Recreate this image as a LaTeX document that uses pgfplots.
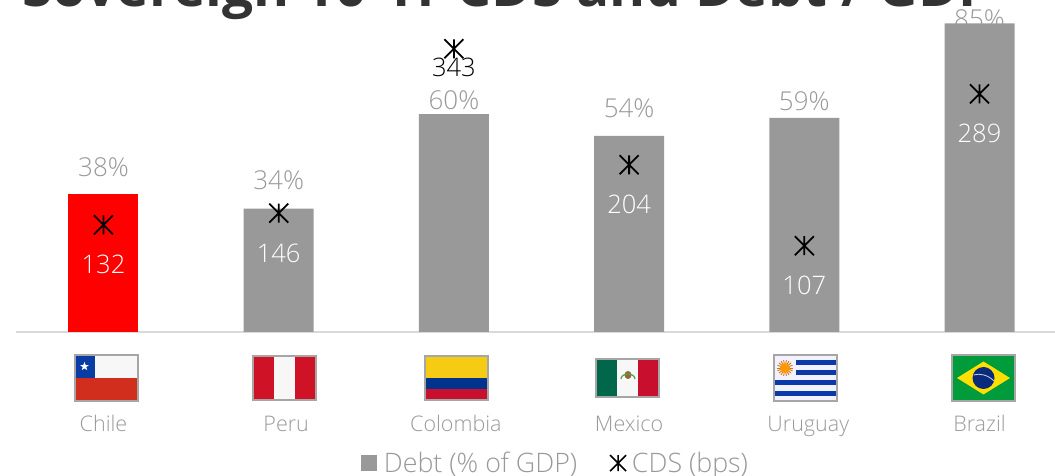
\documentclass[border=0pt]{standalone}
\usepackage{pgfplots}
\pgfplotsset{compat=1.18}
\usepackage{fontspec}
\setmainfont{Open Sans}[UprightFont=* Light,BoldFont=* Bold]
\usetikzlibrary{shapes.geometric}

\definecolor{barGray}{HTML}{999999}
\definecolor{textGray}{HTML}{999999}
\definecolor{frameGray}{HTML}{A6A6A6}
\definecolor{baseGray}{HTML}{D9D9D9}
\definecolor{titleInk}{HTML}{333333}

% star with a vertical arm and two diagonals
\pgfdeclareplotmark{crossbar}{%
  \pgfpathmoveto{\pgfqpoint{-\pgfplotmarksize}{-\pgfplotmarksize}}%
  \pgfpathlineto{\pgfqpoint{\pgfplotmarksize}{\pgfplotmarksize}}%
  \pgfpathmoveto{\pgfqpoint{-\pgfplotmarksize}{\pgfplotmarksize}}%
  \pgfpathlineto{\pgfqpoint{\pgfplotmarksize}{-\pgfplotmarksize}}%
  \pgfpathmoveto{\pgfqpoint{0pt}{-\pgfplotmarksize}}%
  \pgfpathlineto{\pgfqpoint{0pt}{\pgfplotmarksize}}%
  \pgfusepathqstroke}

% debt: position, value, label lift above the bar
\pgfplotstableread{
x debt lift
0 38 27
1 34 28
2 60 14
3 54 28
4 59 17
5 85 4
}\debttable
\pgfplotstableread{
x debt
0 38
}\chiletable
\pgfplotstableread{
x debt
1 34
2 60
3 54
4 59
5 85
}\peertable
\pgfplotstableread{
x cds
0 132
1 146
3 204
4 107
5 289
}\cdstable
\pgfplotstableread{
x cds
2 343
}\cdshigh

\begin{document}
\begin{tikzpicture}
\clip[use as bounding box] (0,0) rectangle (1055pt,476pt);

\begin{axis}[
  name=main, at={(16pt,144pt)}, anchor=south west,
  scale only axis, width=1039pt, height=332pt,
  xmin=-0.4994, xmax=5.431, ymin=0, ymax=91.46,
  axis x line=bottom, axis y line=none,
  axis line style={baseGray, line width=1.5pt, -},
  /pgf/number format/assume math mode=true,
  xtick=data, major tick length=0pt, clip=false,
  xticklabels={Chile,\hspace{15pt}Peru,\hspace{4pt}Colombia,Mexico,\hspace{8pt}Uruguay,Brazil},
  xticklabel style={anchor=base, yshift=-100pt, text=textGray, font=\fontsize{21.5}{25}\selectfont},
  legend style={at={(0.3325,-0.395)}, anchor=west, draw=none, fill=none, inner sep=0pt, outer sep=0pt,
    font=\fontsize{26.8}{32}\selectfont, text=textGray, legend columns=2,
    /tikz/every even column/.append style={column sep=30pt}},
]
\addlegendimage{legend image code/.code={\fill[barGray] (0pt,-7.5pt) rectangle (15pt,7.5pt);}}
\addlegendentry{\hspace{5pt}Debt (\% of GDP)}
\addlegendimage{legend image code/.code={\draw[black,line width=1.7pt] (0pt,-8pt)--(16pt,8pt) (0pt,8pt)--(16pt,-8pt) (8pt,-8pt)--(8pt,8pt);}}
\addlegendentry{\hspace{3pt}CDS (bps)}

% debt labels go first so that the bars sit over them
\addplot[draw=none, forget plot,
  visualization depends on={\thisrow{lift} \as \lift},
  nodes near coords={\pgfmathprintnumber{\pgfplotspointmeta}\%},
  point meta=y,
  every node near coord/.style={anchor=center, yshift=\lift pt, text=textGray, inner sep=0pt,
    font=\fontsize{26}{30}\selectfont}]
  table[x=x,y=debt]{\debttable};

\addplot[ybar, forget plot, bar width=70pt, bar shift=0pt, fill=barGray, draw=none]
  table[x=x,y=debt]{\peertable};
\addplot[ybar, forget plot, bar width=70pt, bar shift=0pt, fill=red, draw=none]
  table[x=x,y=debt]{\chiletable};
\end{axis}

% CDS on its own hidden scale
\begin{axis}[
  at={(16pt,144pt)}, anchor=south west,
  scale only axis, width=1039pt, height=332pt,
  xmin=-0.4994, xmax=5.431, ymin=3.6, ymax=401.5,
  axis lines=none, clip=false,
  /pgf/number format/assume math mode=true,
]
\addplot[only marks, mark=crossbar, mark size=9.5pt, mark options={black, line width=1.8pt},
  nodes near coords, point meta=y,
  every node near coord/.style={anchor=center, yshift=-40pt, text=white, inner sep=0pt,
    font=\fontsize{25.5}{30}\selectfont}]
  table[x=x,y=cds]{\cdstable};
\addplot[only marks, mark=crossbar, mark size=9.5pt, mark options={black, line width=1.8pt},
  nodes near coords, point meta=y,
  every node near coord/.style={anchor=center, yshift=-19pt, text=black, inner sep=0pt,
    font=\fontsize{25.5}{30}\selectfont}]
  table[x=x,y=cds]{\cdshigh};
\end{axis}

% title runs off the top edge
\node[anchor=base west, inner sep=0pt, text=titleInk, font=\fontsize{55}{64}\selectfont\bfseries]
  at (22pt,469.5pt) {Sovereign 10-Yr CDS and Debt / GDP};

% flags, in a frame measured from the top left corner
\begin{scope}[x=1pt,y=-1pt,yshift=476pt]
  % Chile
  \definecolor{clR}{HTML}{D22E1E}\definecolor{clB}{HTML}{0A3CA6}
  \fill[white!97!black] (75,355) rectangle (138,378);
  \fill[clR] (75,378) rectangle (138,401);
  \fill[clB] (75,355) rectangle (95,378);
  \node[star, star points=5, star point ratio=2.4, fill=white, inner sep=0pt, minimum size=9pt] at (84.5,366.5) {};
  \draw[frameGray, line width=1.2pt] (75,355) rectangle (138,401);
  % Peru
  \definecolor{peR}{HTML}{D01226}
  \fill[white!97!black] (253,356) rectangle (316,400);
  \fill[peR] (253,356) rectangle (274,400);
  \fill[peR] (295,356) rectangle (316,400);
  \draw[frameGray, line width=1.2pt] (253,356) rectangle (316,400);
  % Colombia
  \definecolor{coY}{HTML}{F5CB14}\definecolor{coB}{HTML}{00338D}\definecolor{coR}{HTML}{C8102E}
  \fill[coY] (425,356) rectangle (488,378);
  \fill[coB] (425,378) rectangle (488,389);
  \fill[coR] (425,389) rectangle (488,400);
  \draw[frameGray, line width=1.2pt] (425,356) rectangle (488,400);
  % Mexico
  \definecolor{mxG}{HTML}{00674B}\definecolor{mxR}{HTML}{C8102E}
  \fill[white!97!black] (596,359) rectangle (659,397);
  \fill[mxG] (596,359) rectangle (617,397);
  \fill[mxR] (638,359) rectangle (659,397);
  \fill[brown!80!black] (628,375) ellipse (3.5 and 4);
  \draw[green!50!black!70, line width=1.2pt] (621,379) arc[start angle=180,end angle=360,x radius=7,y radius=5];
  \draw[frameGray, line width=1.2pt] (596,359) rectangle (659,397);
  % Uruguay
  \definecolor{uyB}{HTML}{0B3AA8}
  \fill[white!95!blue] (774,355) rectangle (837,401);
  \fill[uyB] (796,360.5) rectangle (837,365.5);
  \fill[uyB] (796,370.5) rectangle (837,375.5);
  \fill[uyB] (775,380.5) rectangle (837,385.5);
  \fill[uyB] (775,391) rectangle (837,396);
  \foreach \a in {0,20,...,340}
    \draw[orange!85!black, line width=0.8pt] (785,368) -- ++(\a:8);
  \fill[orange!80!yellow] (785,368) circle (5);
  \draw[frameGray, line width=1.2pt] (774,355) rectangle (837,401);
  % Brazil
  \definecolor{brG}{HTML}{009B3A}\definecolor{brY}{HTML}{FEDF00}\definecolor{brB}{HTML}{0A2A7C}
  \fill[brG] (952,355) rectangle (1015,401);
  \fill[brY] (957,378) -- (983.5,361.5) -- (1010,378) -- (983.5,394.5) -- cycle;
  \fill[brB] (983.5,378) circle (11);
  \draw[white!80!brB, line width=0.8pt] (973.5,375) .. controls (980,373) and (988,375) .. (994,381);
  \draw[frameGray, line width=1.2pt] (952,355) rectangle (1015,401);
\end{scope}
\end{tikzpicture}
\end{document}
